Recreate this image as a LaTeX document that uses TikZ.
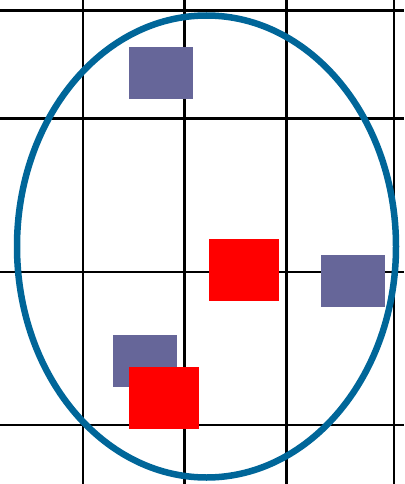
\documentclass[tikz,border=0pt]{standalone}
\begin{document}
\begin{tikzpicture}[x=1pt,y=-1pt,
  gridline/.style={line width=2.6pt,black},
  purplebox/.style={fill={rgb,255:red,102;green,102;blue,153},draw=none},
  redbox/.style={fill=red,draw=none},
  ring/.style={draw={rgb,255:red,0;green,102;blue,153},line width=6.5pt}]
\useasboundingbox (0,0) rectangle (404,484);
% grid
\foreach \x in {83,184.5,286.5,394} \draw[gridline] (\x,0) -- (\x,484);
\foreach \y in {10.7,118.3,272,425} \draw[gridline] (0,\y) -- (404,\y);
% ellipse
\draw[ring] (206.5,246.5) ellipse [x radius=189.5, y radius=231];
% squares
\path[purplebox] (129,47) rectangle (193,99);
\path[redbox] (209,239) rectangle (279,301);
\path[purplebox] (321,255) rectangle (385,307);
\path[purplebox] (113,335) rectangle (177,387);
\path[redbox] (129,367) rectangle (199,429);
\end{tikzpicture}
\end{document}
